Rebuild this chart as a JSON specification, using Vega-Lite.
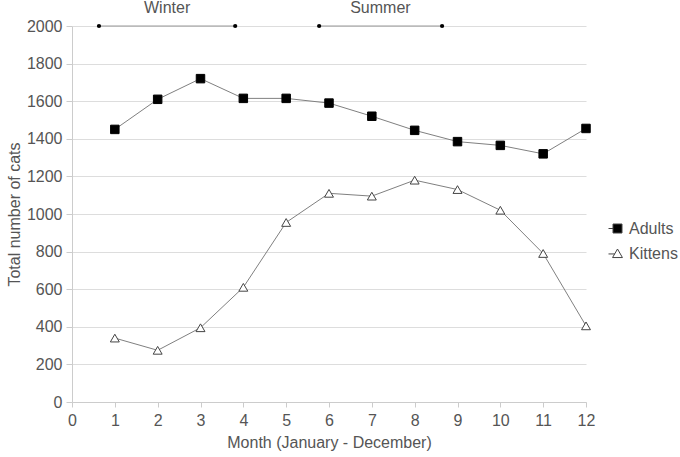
{
  "$schema": "https://vega.github.io/schema/vega-lite/v6.json",
  "width": 514,
  "height": 376,
  "autosize": {"type": "none"},
  "padding": {"left": 72, "top": 26, "right": 94, "bottom": 55},
  "background": "white",
  "config": {
    "view": {"stroke": null},
    "font": "Liberation Sans",
    "axis": {
      "labelFont": "Liberation Sans",
      "titleFont": "Liberation Sans",
      "labelFontSize": 16,
      "titleFontSize": 16,
      "labelColor": "#555555",
      "titleColor": "#555555",
      "titleFontWeight": "normal",
      "domainColor": "#cccccc",
      "tickColor": "#cccccc",
      "gridColor": "#dddddd",
      "labelOverlap": false,
      "labelFlush": false
    },
    "axisX": {
      "values": [0,1,2,3,4,5,6,7,8,9,10,11,12],
      "format": "d",
      "grid": false,
      "tickSize": 5,
      "labelPadding": 5,
      "titlePadding": 6
    },
    "axisY": {
      "values": [0,200,400,600,800,1000,1200,1400,1600,1800,2000],
      "tickCount": 10,
      "format": "d",
      "grid": true,
      "tickSize": 6,
      "labelPadding": 4,
      "titlePadding": 4
    },
    "legend": {
      "labelFont": "Liberation Sans",
      "labelFontSize": 16,
      "labelColor": "#555555"
    }
  },
  "datasets": {
    "cats": [
      {"month": 1, "series": "Adults", "count": 1450},
      {"month": 2, "series": "Adults", "count": 1610},
      {"month": 3, "series": "Adults", "count": 1720},
      {"month": 4, "series": "Adults", "count": 1615},
      {"month": 5, "series": "Adults", "count": 1615},
      {"month": 6, "series": "Adults", "count": 1590},
      {"month": 7, "series": "Adults", "count": 1520},
      {"month": 8, "series": "Adults", "count": 1445},
      {"month": 9, "series": "Adults", "count": 1385},
      {"month": 10, "series": "Adults", "count": 1365},
      {"month": 11, "series": "Adults", "count": 1320},
      {"month": 12, "series": "Adults", "count": 1455},
      {"month": 1, "series": "Kittens", "count": 340},
      {"month": 2, "series": "Kittens", "count": 275},
      {"month": 3, "series": "Kittens", "count": 395},
      {"month": 4, "series": "Kittens", "count": 610},
      {"month": 5, "series": "Kittens", "count": 955},
      {"month": 6, "series": "Kittens", "count": 1110},
      {"month": 7, "series": "Kittens", "count": 1095},
      {"month": 8, "series": "Kittens", "count": 1180},
      {"month": 9, "series": "Kittens", "count": 1130},
      {"month": 10, "series": "Kittens", "count": 1020},
      {"month": 11, "series": "Kittens", "count": 790},
      {"month": 12, "series": "Kittens", "count": 405}
    ],
    "seasons": [
      {"season": "Winter", "start": 0.63, "end": 3.81, "mid": 2.22, "level": 2000},
      {"season": "Summer", "start": 5.77, "end": 8.64, "mid": 7.2, "level": 2000}
    ]
  },
  "layer": [
    {
      "data": {"name": "cats"},
      "mark": {"type": "line", "color": "#808080", "strokeWidth": 1},
      "encoding": {
        "x": {
          "field": "month", "type": "quantitative",
          "scale": {"domain": [0, 12], "nice": false},
          "title": "Month (January - December)"
        },
        "y": {
          "field": "count", "type": "quantitative",
          "scale": {"domain": [0, 2000], "nice": false},
          "title": "Total number of cats"
        },
        "detail": {"field": "series"}
      }
    },
    {
      "data": {"name": "seasons"},
      "mark": {"type": "rule", "color": "#999999", "strokeWidth": 1},
      "encoding": {
        "x": {"field": "start", "type": "quantitative", "title": "Month (January - December)"},
        "x2": {"field": "end"},
        "y": {"field": "level", "type": "quantitative", "title": "Total number of cats"}
      }
    },
    {
      "data": {"name": "seasons"},
      "mark": {"type": "circle", "color": "black", "size": 18, "opacity": 1},
      "encoding": {
        "x": {"field": "start", "type": "quantitative", "title": "Month (January - December)"},
        "y": {"field": "level", "type": "quantitative", "title": "Total number of cats"}
      }
    },
    {
      "data": {"name": "seasons"},
      "mark": {"type": "circle", "color": "black", "size": 18, "opacity": 1},
      "encoding": {
        "x": {"field": "end", "type": "quantitative", "title": "Month (January - December)"},
        "y": {"field": "level", "type": "quantitative", "title": "Total number of cats"}
      }
    },
    {
      "data": {"name": "seasons"},
      "mark": {"type": "text", "fontSize": 16, "color": "#555555", "dy": -18, "baseline": "middle", "align": "center"},
      "encoding": {
        "x": {"field": "mid", "type": "quantitative", "title": "Month (January - December)"},
        "y": {"field": "level", "type": "quantitative", "title": "Total number of cats"},
        "text": {"field": "season"}
      }
    },
    {
      "data": {"name": "cats"},
      "transform": [{"filter": "datum.series === 'Adults'"}],
      "mark": {"type": "point", "shape": "square", "filled": true, "fill": "black", "stroke": "black", "strokeWidth": 1, "size": 72, "opacity": 1},
      "encoding": {
        "x": {"field": "month", "type": "quantitative", "title": "Month (January - December)"},
        "y": {"field": "count", "type": "quantitative", "title": "Total number of cats"}
      }
    },
    {
      "data": {"name": "cats"},
      "transform": [{"filter": "datum.series === 'Kittens'"}],
      "mark": {"type": "point", "shape": "triangle-up", "filled": true, "fill": "white", "stroke": "#444444", "strokeWidth": 1, "size": 80, "opacity": 1},
      "encoding": {
        "x": {"field": "month", "type": "quantitative", "title": "Month (January - December)"},
        "y": {"field": "count", "type": "quantitative", "title": "Total number of cats"}
      }
    },
    {
      "data": {"name": "cats"},
      "mark": {"type": "point", "filled": true, "opacity": 0},
      "encoding": {
        "x": {"field": "month", "type": "quantitative", "title": "Month (January - December)"},
        "y": {"field": "count", "type": "quantitative", "title": "Total number of cats"},
        "shape": {
          "field": "series", "type": "nominal",
          "scale": {
            "domain": ["Adults", "Kittens"],
            "range": ["M-1,0H-0.5M-0.5,-0.5H0.5V0.5H-0.5Z", "M-1,0.05H-0.3M0,-0.5L0.55,0.45H-0.55Z"]
          },
          "legend": {
            "title": null,
            "orient": "none",
            "legendX": 536,
            "legendY": 193,
            "symbolSize": 324,
            "labelOffset": 2,
            "rowPadding": 7,
            "padding": 0,
            "encode": {
              "symbols": {"update": {"stroke": {"value": "#444444"}, "strokeWidth": {"value": 1}, "opacity": {"value": 1}}}
            }
          }
        },
        "fill": {
          "field": "series", "type": "nominal",
          "scale": {"domain": ["Adults", "Kittens"], "range": ["black", "white"]},
          "legend": {
            "title": null,
            "orient": "none",
            "legendX": 536,
            "legendY": 193,
            "symbolSize": 324,
            "labelOffset": 2,
            "rowPadding": 7,
            "padding": 0,
            "encode": {
              "symbols": {"update": {"stroke": {"value": "#444444"}, "strokeWidth": {"value": 1}, "opacity": {"value": 1}}}
            }
          }
        }
      }
    }
  ]
}
